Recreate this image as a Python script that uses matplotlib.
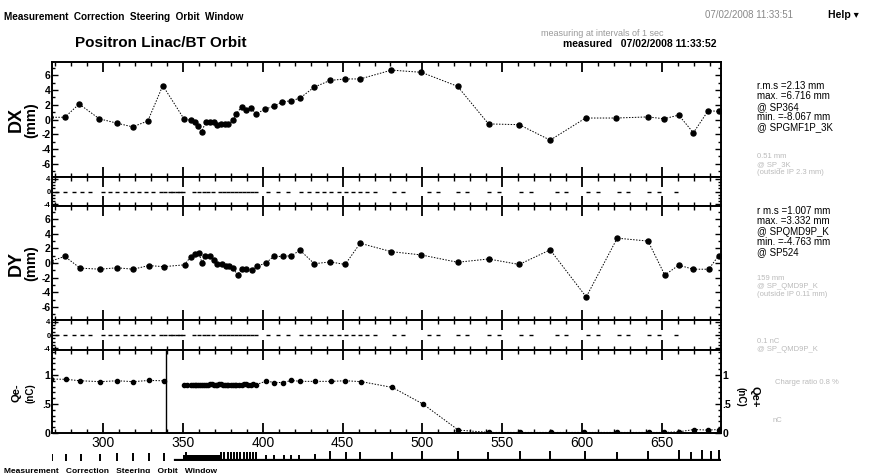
import matplotlib
matplotlib.use("Agg")
import matplotlib.pyplot as plt
from matplotlib.ticker import MultipleLocator

plt.rcParams['font.family'] = ['Liberation Sans', 'DejaVu Sans']
plt.rcParams['axes.unicode_minus'] = False

# ---------------- data ----------------
dx_s = [266.5, 276, 285, 297.6, 308.7, 318.5, 328, 337.4, 350.6, 354.8, 357.5, 359.6, 361.7,
        364.2, 366.7, 369.5, 371.6, 373.7, 376.2, 378.5, 381.4, 383.5, 386.7, 389.8, 392.5,
        396, 401.5, 406.8, 412.3, 418, 423.3, 432.3, 442.2, 451.5, 461, 480.6, 499.4, 522,
        541.4, 560.6, 580, 602.2, 621.5, 641, 651.4, 660.5, 669.7, 679, 685.5]
dx_v = [0.3, 0.3, 2.1, 0.1, -0.5, -1.0, -0.2, 4.6, 0.1, -0.1, -0.35, -0.9, -1.65,
        -0.4, -0.4, -0.4, -0.7, -0.6, -0.6, -0.6, -0.1, 0.8, 1.7, 1.3, 1.5,
        0.8, 1.4, 1.8, 2.4, 2.55, 2.9, 4.4, 5.3, 5.5, 5.5, 6.7, 6.4, 4.5,
        -0.6, -0.7, -2.8, 0.2, 0.2, 0.35, 0.1, 0.6, -1.8, 1.2, 1.1]

dy_s = [266.5, 276, 285.6, 298.2, 308.7, 318.8, 328.6, 338, 351, 354.8, 357.5, 360, 362,
        363.8, 366.7, 369.5, 371.6, 374.3, 376.8, 378.9, 381.4, 384.2, 386.7, 389.8, 393,
        396.3, 402, 406.8, 412.5, 418, 423.3, 432.3, 442.2, 451.6, 461, 480.6, 499.4, 522,
        541.4, 560.6, 580, 602.6, 622, 641.3, 651.8, 660.5, 669.7, 679.3, 685.5]
dy_v = [0.2, 0.9, -0.7, -0.85, -0.65, -0.85, -0.35, -0.5, -0.25, 0.85, 1.2, 1.35, 0.0,
        0.9, 0.9, 0.45, -0.15, -0.2, -0.35, -0.45, -0.7, -1.6, -0.8, -0.8, -0.9,
        -0.45, 0.0, 0.9, 0.9, 1.0, 1.75, -0.1, 0.15, -0.2, 2.7, 1.55, 1.1, 0.1,
        0.55, -0.2, 1.8, -4.65, 3.4, 3.0, -1.65, -0.3, -0.85, -0.85, 1.0]

q_s1 = [267.2, 276.6, 285.6, 298.2, 309, 318.8, 328.6, 338]
q_v1 = [0.93, 0.925, 0.9, 0.885, 0.9, 0.885, 0.905, 0.9]
q_s2 = [350.6, 352.5, 354.8, 356.5, 357.5, 358.5, 359.6, 360.7, 361.7, 363, 364.2, 365.5,
        366.7, 368, 369.5, 370.5, 371.6, 372.7, 373.7, 375, 376.2, 377.3, 378.5, 380,
        381.4, 382.5, 383.5, 385, 386.7, 388, 389.8, 391, 392.5, 394, 396,
        402.3, 407.2, 412.5, 418, 423.5, 433, 442.8, 451.8, 461.7, 481.2, 500.3, 522.5,
        541.8, 561.3, 580.8, 601.5, 621.7, 641.6, 651.4, 660.5, 670, 679, 685.5]
q_v2 = [0.82, 0.82, 0.825, 0.825, 0.83, 0.83, 0.83, 0.83, 0.835, 0.835, 0.835, 0.835,
        0.84, 0.84, 0.835, 0.835, 0.835, 0.84, 0.84, 0.835, 0.83, 0.835, 0.835, 0.825,
        0.82, 0.83, 0.83, 0.835, 0.835, 0.84, 0.84, 0.835, 0.83, 0.84, 0.835,
        0.895, 0.87, 0.87, 0.905, 0.89, 0.89, 0.89, 0.9, 0.885, 0.785, 0.5, 0.05,
        0.01, 0.01, 0.01, 0.01, 0.01, 0.01, 0.01, 0.02, 0.06, 0.05, 0.06]
q_gap_s = 339.5

steer_s = [271, 276, 281.5, 286.8, 292, 300, 304.5, 309, 313.5, 318, 322.5, 327, 331,
           336, 339, 342, 344, 346, 348, 350, 357, 360, 363, 366, 369,
           373, 375.5, 378, 380.5, 383, 385.5, 388, 390.5, 393, 395.5, 403, 409.5, 416,
           424, 429, 434, 438.5, 443, 447.5, 452, 456.5, 461, 465.5, 470,
           482, 488, 504, 510, 522, 528, 542, 548, 562, 568, 584, 590,
           604, 610, 623, 629, 642, 648, 659]
steer_v = [0.0] * len(steer_s)

xticks = [300, 350, 400, 450, 500, 550, 600, 650]

# lattice strip elements (position, height)
lat_s = [268, 277, 286, 298, 309, 319, 329, 338, 352, 374, 376, 378, 380, 382, 384, 386,
         388, 390, 392, 394, 396, 402, 407, 413, 418, 423, 433, 442, 452, 461, 481, 500,
         522, 541, 561, 580, 602, 622, 641, 661, 668, 675, 681, 686]
lat_h = [0.6, 0.6, 0.6, 0.6, 0.7, 0.7, 0.7, 0.7, 0.8, 0.8, 0.8, 0.8, 0.8, 0.8, 0.8, 0.8,
         0.8, 0.8, 0.8, 0.8, 0.8, 0.5, 0.5, 0.5, 0.5, 0.5, 0.6, 0.9, 0.8, 0.8, 0.8, 0.9,
         0.9, 0.8, 0.9, 0.9, 0.9, 0.8, 0.9, 1.0, 0.8, 1.0, 0.9, 1.0]

xlim = (268, 687)

# ---------------- figure ----------------
W, H = 893, 473
fig = plt.figure(figsize=(W / 100, H / 100), dpi=100)


def ax_px(top, bottom, left=52, right=721):
    return fig.add_axes([left / W, 1 - bottom / H, (right - left) / W, (bottom - top) / H])


def style(ax, ylab_fs=7):
    ax.set_xlim(*xlim)
    ax.xaxis.set_major_locator(MultipleLocator(50))
    ax.xaxis.set_minor_locator(MultipleLocator(10))
    ax.tick_params(axis='both', which='both', direction='in', top=True, right=True,
                   width=1.0, colors='black')
    ax.tick_params(axis='x', which='major', length=7, width=1.3)
    ax.tick_params(axis='x', which='minor', length=3)
    ax.tick_params(axis='y', which='major', length=4, labelsize=ylab_fs, pad=1)
    ax.tick_params(axis='y', which='minor', length=2)
    for sp in ax.spines.values():
        sp.set_linewidth(1.4)
    ax.set_xticklabels([])
    for lbl in ax.get_yticklabels():
        lbl.set_fontweight('bold')


line_kw = dict(color='black', lw=0.7, ls=(0, (1.5, 1.5)), marker='o', ms=3.6,
               mfc='black', mec='black')

# DX main
ax1 = ax_px(62, 177)
ax1.plot(dx_s, dx_v, **line_kw)
ax1.set_ylim(-7.8, 7.8)
ax1.set_yticks([-6, -4, -2, 0, 2, 4, 6])
ax1.yaxis.set_minor_locator(MultipleLocator(1))
style(ax1, ylab_fs=7.5)
fig.text(16 / W, 1 - 120 / H, "DX", rotation=90, fontsize=13, fontweight='bold',
         ha='center', va='center')
fig.text(31 / W, 1 - 120 / H, "(mm)", rotation=90, fontsize=10.5, fontweight='bold',
         ha='center', va='center')

# DX small
ax2 = ax_px(177, 206)
ax2.plot(steer_s, steer_v, ls='none', marker='_', ms=2.6, mew=1.0, color='black')
ax2.set_ylim(-4.5, 4.5)
ax2.set_yticks([-4, 0, 4])
ax2.set_yticklabels(['-4', '0', '4'])
ax2.yaxis.set_minor_locator(MultipleLocator(1))
style(ax2, ylab_fs=5.5)

# DY main
ax3 = ax_px(206, 320)
ax3.plot(dy_s, dy_v, **line_kw)
ax3.set_ylim(-7.8, 7.8)
ax3.set_yticks([-6, -4, -2, 0, 2, 4, 6])
ax3.yaxis.set_minor_locator(MultipleLocator(1))
style(ax3, ylab_fs=7.5)
fig.text(16 / W, 1 - 263 / H, "DY", rotation=90, fontsize=13, fontweight='bold',
         ha='center', va='center')
fig.text(31 / W, 1 - 263 / H, "(mm)", rotation=90, fontsize=10.5, fontweight='bold',
         ha='center', va='center')

# DY small
ax4 = ax_px(320, 350)
ax4.plot(steer_s, steer_v, ls='none', marker='_', ms=2.6, mew=1.0, color='black')
ax4.set_ylim(-4.5, 4.5)
ax4.set_yticks([-4, 0, 4])
ax4.set_yticklabels(['-4', '0', '4'])
ax4.yaxis.set_minor_locator(MultipleLocator(1))
style(ax4, ylab_fs=5.5)

# Q panel
ax5 = ax_px(350, 433)
qkw = dict(line_kw)
qkw['ms'] = 3.0
ax5.plot(q_s1, q_v1, **qkw)
ax5.plot(q_s2, q_v2, **qkw)
ax5.axvline(q_gap_s, color='black', lw=1.0)
ax5.set_ylim(0, 1.43)
ax5.set_yticks([0, 0.5, 1])
ax5.yaxis.set_minor_locator(MultipleLocator(0.1))
style(ax5, ylab_fs=7.5)
ax5.set_xticks(xticks)
ax5.set_xticklabels([str(v) for v in xticks], fontsize=10)
ax5.tick_params(axis='x', pad=2)
ax5.set_yticklabels(['0', '.5', '1'])
ax5.tick_params(axis='y', labelright=True, labelleft=True)
for lbl in ax5.get_yticklabels(which='both'):
    lbl.set_fontweight('bold')
fig.text(17 / W, 1 - 393 / H, "Qe-", rotation=90, fontsize=8, fontweight='bold',
         ha='center', va='center')
fig.text(30 / W, 1 - 393 / H, "(nC)", rotation=90, fontsize=7, fontweight='bold',
         ha='center', va='center')
fig.text(740 / W, 1 - 397 / H, "(nC)", rotation=270, fontsize=7, fontweight='bold',
         ha='center', va='center')
fig.text(755 / W, 1 - 397 / H, "Qe+", rotation=270, fontsize=8, fontweight='bold',
         ha='center', va='center')

# Lattice strip
ax6 = ax_px(449, 461)
ax6.set_xlim(*xlim)
ax6.set_ylim(0, 1.05)
ax6.axhline(0.05, xmin=(345 - xlim[0]) / (xlim[1] - xlim[0]), color='black', lw=1.6)
ax6.vlines(lat_s, 0, lat_h, color='black', lw=1.4)
ax6.fill_between([350, 373], 0, 0.55, color='black', lw=0)
ax6.axis('off')

# ---------------- header / side texts ----------------
fig.text(4 / W, 1 - 17 / H, "Measurement  Correction  Steering  Orbit  Window",
         fontsize=7.2, fontweight='bold', va='center')
fig.text(75 / W, 1 - 43 / H, "Positron Linac/BT Orbit", fontsize=11, fontweight='bold',
         va='center')
fig.text(705 / W, 1 - 15 / H, "07/02/2008 11:33:51", fontsize=7, color='#888888',
         va='center')
fig.text(828 / W, 1 - 15 / H, "Help \u25be", fontsize=7.5, fontweight='bold', va='center')
fig.text(541 / W, 1 - 34 / H, "measuring at intervals of 1 sec", fontsize=6.5,
         color='#999999', va='center')
fig.text(563 / W, 1 - 44 / H, "measured   07/02/2008 11:33:52", fontsize=7.5,
         fontweight='bold', va='center')

fig.text(757 / W, 1 - 81 / H,
         "r.m.s =2.13 mm\nmax. =6.716 mm\n@ SP364\nmin. =-8.067 mm\n@ SPGMF1P_3K",
         fontsize=7, va='top', linespacing=1.05)
fig.text(757 / W, 1 - 153 / H, "0.51 mm\n@ SP_3K\n(outside IP 2.3 mm)",
         fontsize=5.5, color='#bbbbbb', va='top', linespacing=1.2)
fig.text(757 / W, 1 - 206 / H,
         "r m.s =1.007 mm\nmax. =3.332 mm\n@ SPQMD9P_K\nmin. =-4.763 mm\n@ SP524",
         fontsize=7, va='top', linespacing=1.05)
fig.text(757 / W, 1 - 275 / H, "159 mm\n@ SP_QMD9P_K\n(outside IP 0.11 mm)",
         fontsize=5.5, color='#bbbbbb', va='top', linespacing=1.2)
fig.text(757 / W, 1 - 338 / H, "0.1 nC\n@ SP_QMD9P_K", fontsize=5.5, color='#bbbbbb',
         va='top', linespacing=1.2)
fig.text(775 / W, 1 - 383 / H, "Charge ratio 0.8 %", fontsize=5.5, color='#bbbbbb',
         va='center')
fig.text(773 / W, 1 - 420 / H, "nC", fontsize=5.5, color='#bbbbbb', va='center')
fig.text(4 / W, 1 - 471 / H, "Measurement   Correction   Steering   Orbit   Window",
         fontsize=6, fontweight='bold', va='center')

fig.savefig("out.png", dpi=100)
